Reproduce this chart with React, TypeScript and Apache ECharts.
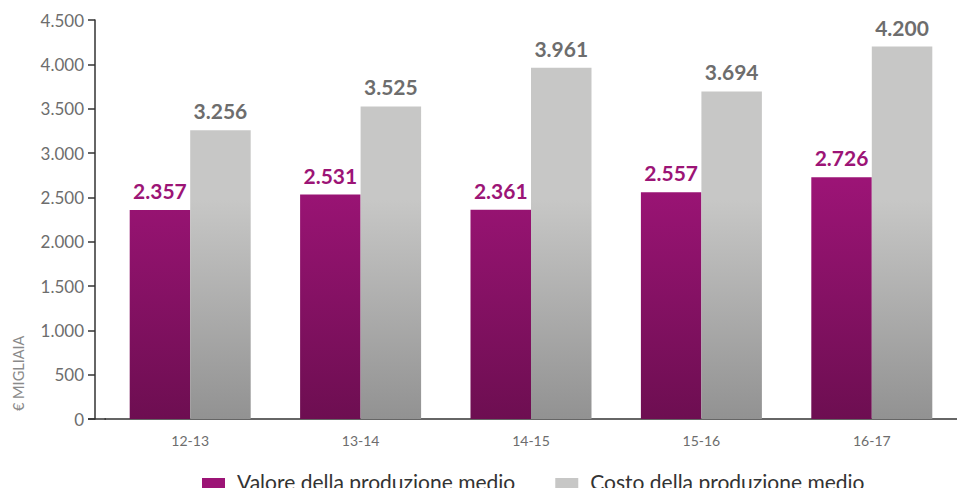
import React, { useEffect, useRef } from "react";
import * as echarts from "echarts";

const categories = ["12-13", "13-14", "14-15", "15-16", "16-17"];
const valoreMedio = [2357, 2531, 2361, 2557, 2726];
const costoMedio = [3256, 3525, 3961, 3694, 4200];
const seriesNames = ["Valore della produzione medio", "Costo della produzione medio"];
const axisName = "€ MIGLIAIA";

const fmt = (v: number) => {
  const s = String(Math.round(v));
  return s.replace(/\B(?=(\d{3})+(?!\d))/g, ".");
};

export default function App() {
  const ref = useRef<HTMLDivElement>(null);
  useEffect(() => {
    if (!ref.current) return;
    const chart = echarts.init(ref.current, null, { renderer: "svg" });
    const font = "Lato, 'Open Sans', sans-serif";
    const purpleGrad = new echarts.graphic.LinearGradient(0, 180, 0, 419, [
      { offset: 0, color: "#9C1476" },
      { offset: 1, color: "#6D0E51" },
    ], true);
    const grayGrad = new echarts.graphic.LinearGradient(0, 200, 0, 419, [
      { offset: 0, color: "#C7C7C6" },
      { offset: 1, color: "#929292" },
    ], true);
    chart.setOption({
      animation: false,
      backgroundColor: "#ffffff",
      textStyle: { fontFamily: font },
      grid: { left: 105, right: 0, top: 20, bottom: 69, containLabel: false },
      legend: {
        left: 197,
        top: 466,
        itemWidth: 23,
        itemHeight: 24,
        itemGap: 40,
        icon: "rect",
        formatter: (n: string) => `{t|${n}}`,
        textStyle: {
          fontSize: 21,
          color: "#333333",
          fontFamily: font,
          rich: {
            t: { fontSize: 21, color: "#333333", fontFamily: font, padding: [0, 0, 17, 7] },
          },
        },
        data: [
          { name: seriesNames[0], itemStyle: { color: "#9C1476" } },
          { name: seriesNames[1], itemStyle: { color: "#C7C7C6" } },
        ],
      },
      xAxis: {
        type: "category",
        data: categories,
        axisLine: { show: true, lineStyle: { color: "#333", width: 1.5 } },
        axisTick: { show: false },
        axisLabel: { color: "#6d6d6d", fontSize: 14, margin: 14, fontFamily: font },
      },
      yAxis: {
        type: "value",
        min: 0,
        max: 4500,
        interval: 500,
        offset: 10,
        axisLine: { show: true, lineStyle: { color: "#333", width: 1.5 } },
        axisTick: { show: true, length: 7, lineStyle: { color: "#333", width: 1.5 } },
        splitLine: { show: false },
        axisLabel: {
          color: "#6d6d6d",
          fontSize: 17,
          margin: 11,
          fontFamily: font,
          formatter: (v: number) => fmt(v),
        },
      },
      graphic: [
        {
          type: "line",
          shape: { x1: 88, y1: 419, x2: 106, y2: 419 },
          style: { stroke: "#333", lineWidth: 1.5 },
        },
        {
          type: "text",
          x: 18,
          y: 411,
          rotation: Math.PI / 2,
          style: {
            text: axisName,
            fontSize: 14.5,
            fill: "#8a8a8a",
            fontFamily: font,
            align: "left",
            verticalAlign: "middle",
          },
        },
      ],
      series: [
        {
          name: seriesNames[0],
          type: "bar",
          data: valoreMedio,
          barWidth: 60.5,
          barGap: "0%",
          itemStyle: { color: purpleGrad },
          label: {
            show: true,
            position: "top",
            distance: 9,
            color: "#9C1476",
            fontSize: 21,
            fontWeight: "bold",
            fontFamily: font,
            formatter: (p: any) => fmt(p.value),
          },
        },
        {
          name: seriesNames[1],
          type: "bar",
          data: costoMedio,
          barWidth: 60.5,
          itemStyle: { color: grayGrad },
          label: {
            show: true,
            position: "top",
            distance: 9,
            color: "#6d6d6d",
            fontSize: 21,
            fontWeight: "bold",
            fontFamily: font,
            formatter: (p: any) => fmt(p.value),
          },
        },
      ],
    });
    return () => chart.dispose();
  }, []);
  return <div ref={ref} style={{ width: 957, height: 488, position: "absolute", left: 0, top: 0 }} />;
}
